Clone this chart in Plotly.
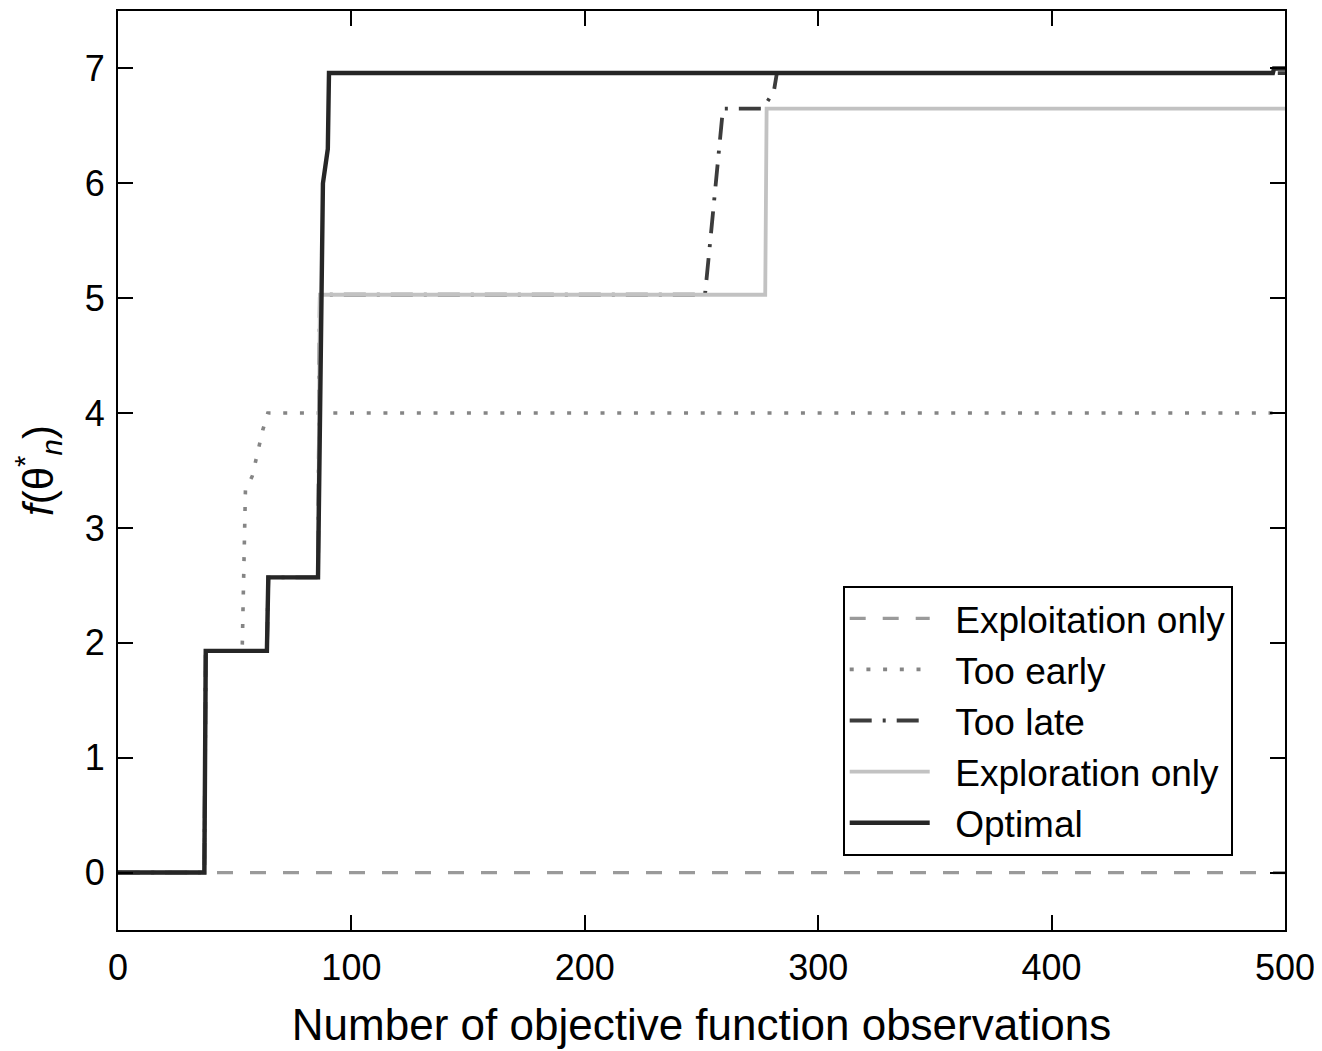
import plotly.graph_objects as go

# ---- data ----
names = ["Exploitation only", "Too early", "Too late", "Exploration only", "Optimal"]

exploit_x = [0, 500]
exploit_y = [0, 0]

early_x = [0, 37, 37.6, 53.2, 54.6, 57.5, 62.0, 64.2, 500]
early_y = [0, 0, 1.93, 1.93, 3.33, 3.45, 3.85, 4.0, 4.0]

late_x = [0, 37, 37.6, 63.8, 64.4, 85.7, 86.5, 251.5, 254.0, 257.0, 259.2, 276.3, 281.0, 282.3, 500]
late_y = [0, 0, 1.93, 1.93, 2.57, 2.57, 5.03, 5.03, 5.55, 6.15, 6.65, 6.65, 6.8, 6.96, 6.96]

explore_x = [0, 37, 37.6, 63.8, 64.4, 85.7, 86.5, 277.3, 277.9, 500]
explore_y = [0, 0, 1.93, 1.93, 2.57, 2.57, 5.03, 5.03, 6.65, 6.65]

opt_x = [0, 37, 37.6, 63.8, 64.4, 85.7, 87.8, 89.9, 90.4, 494.8, 495.3, 500]
opt_y = [0, 0, 1.93, 1.93, 2.57, 2.57, 6.0, 6.3, 6.96, 6.96, 7.0, 7.0]

x_ticks = [0, 100, 200, 300, 400, 500]
y_ticks = [0, 1, 2, 3, 4, 5, 6, 7]

# ---- styles ----
styles = [
    dict(color="#9a9a9a", width=3.2, dash="16px,17px"),
    dict(color="#858585", width=3.6, dash="4px,12.7px"),
    dict(color="#3c3c3c", width=3.8, dash="22px,11px,3px,11px"),
    dict(color="#c2c2c2", width=3.8, dash="solid"),
    dict(color="#262626", width=4.4, dash="solid"),
]
series = [(exploit_x, exploit_y), (early_x, early_y), (late_x, late_y),
          (explore_x, explore_y), (opt_x, opt_y)]

fig = go.Figure()
for name, (xs, ys), st in zip(names, series, styles):
    fig.add_trace(go.Scatter(x=xs, y=ys, mode="lines",
                             name="&nbsp;&nbsp;" + name, line=st))

FONT = "Liberation Sans, Arial, Helvetica, sans-serif"
axis_common = dict(
    showgrid=False, zeroline=False, showline=True, linecolor="black", linewidth=2,
    mirror="ticks", ticks="inside", ticklen=15, tickwidth=2, tickcolor="black",
    tickfont=dict(family=FONT, size=36, color="black"),
)

fig.update_layout(
    width=1314, height=1043,
    margin=dict(l=110, r=37, t=1, b=121),
    paper_bgcolor="white", plot_bgcolor="white",
    font=dict(family=FONT, color="black"),
    xaxis=dict(range=[0, 500], tickvals=x_ticks, ticklabelstandoff=5,
               title=dict(text="Number of objective function observations",
                          font=dict(family=FONT, size=44), standoff=22),
               **axis_common),
    yaxis=dict(range=[-0.5, 7.5], tickvals=y_ticks, ticklabelstandoff=4,
               title=dict(text="<i>f</i>(θ<sup>*</sup><sub><i>n</i></sub>)",
                          font=dict(family=FONT, size=42), standoff=18),
               **axis_common),
    legend=dict(x=0.621, y=0.3746, xanchor="left", yanchor="top",
                bgcolor="white", bordercolor="black", borderwidth=2,
                font=dict(family=FONT, size=37, color="black"),
                itemwidth=80, tracegroupgap=0),
    showlegend=True,
)

fig.write_html("out.html")
